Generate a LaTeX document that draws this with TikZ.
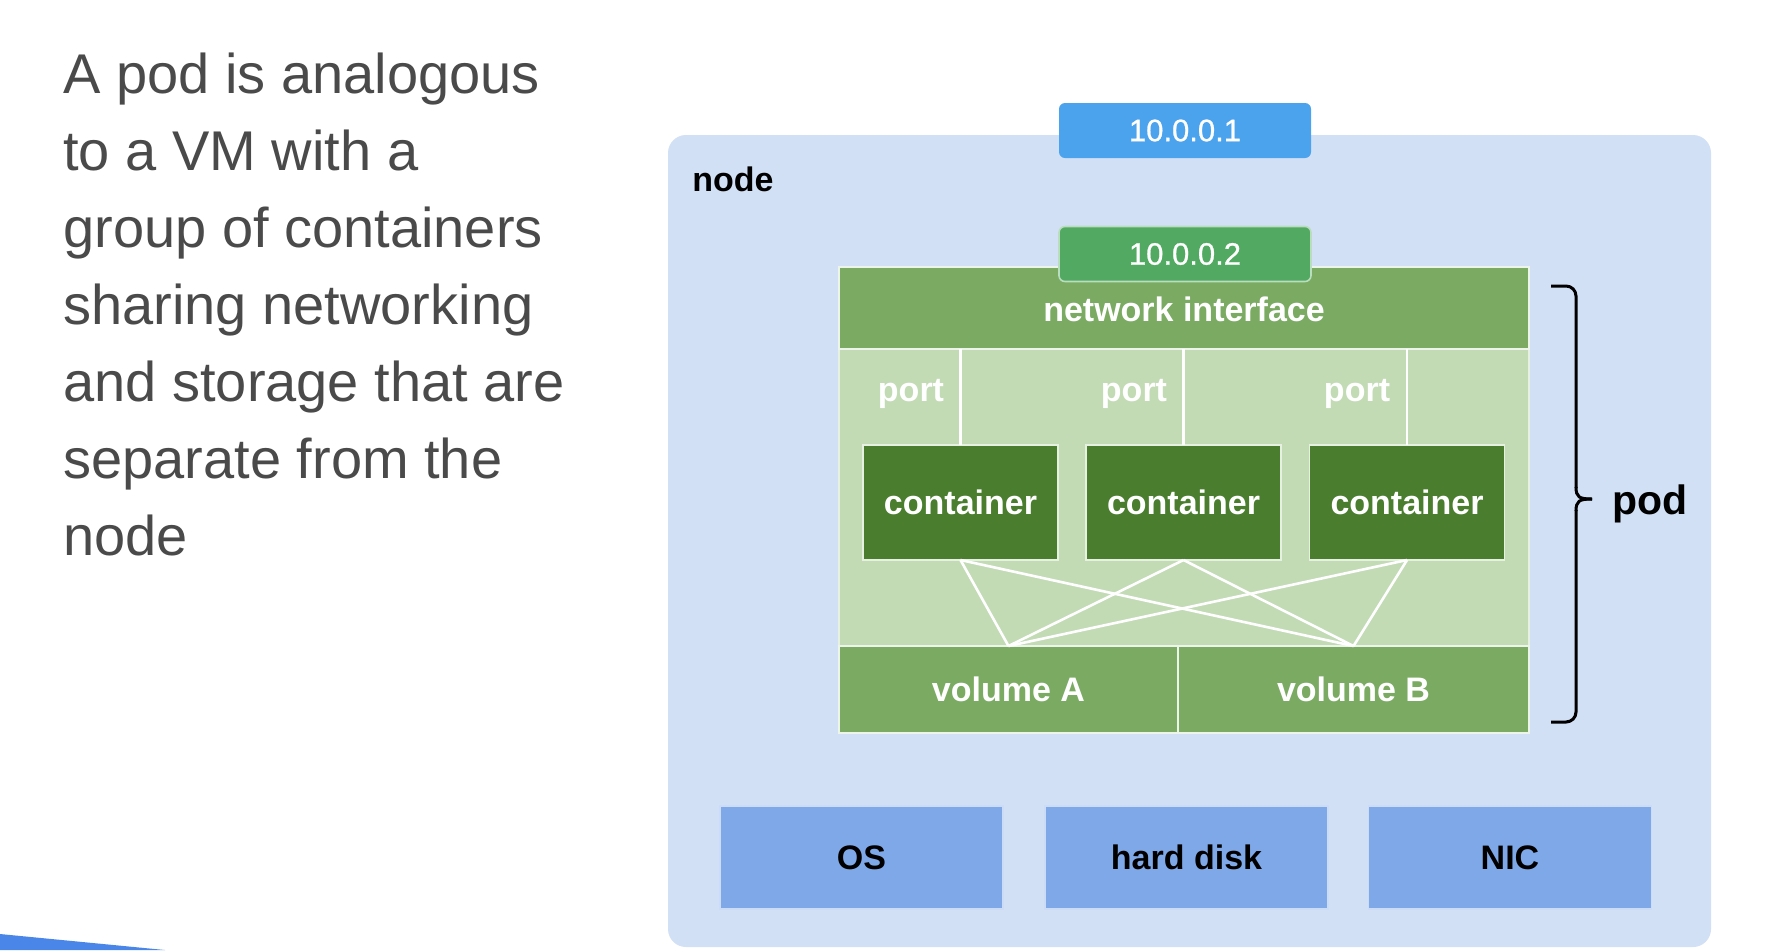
\documentclass[tikz,border=0pt]{standalone}
\usepackage{fontspec}
\setmainfont{Liberation Sans}
\newfontfamily\medfont[FakeBold=0.8]{Liberation Sans}
\definecolor{nodebg}{HTML}{D2E0F6}
\definecolor{ipblue}{HTML}{4BA3EE}
\definecolor{ipgreen}{HTML}{52A962}
\definecolor{midgreen}{HTML}{7BAA62}
\definecolor{lightgreen}{HTML}{C2DBB5}
\definecolor{darkgreen}{HTML}{4A7D2E}
\definecolor{hwblue}{HTML}{7FA8E8}
\definecolor{swoosh}{HTML}{4A86E8}
\definecolor{bodytext}{HTML}{4A4A4A}
\begin{document}
\begin{tikzpicture}[x=0.5pt,y=-0.5pt,
  bodyline/.style={anchor=base west,inner sep=0pt,text=bodytext,font=\fontsize{28}{34}\selectfont},
  box/.style={rectangle,inner sep=0pt,outer sep=0pt,font=\bfseries\fontsize{17}{20}\selectfont},
  greenbox/.style={box,fill=midgreen,draw=white!70!lightgreen,line width=0.8pt,text=white},
  contbox/.style={box,fill=darkgreen,draw=white!60!lightgreen,line width=0.8pt,text=white,minimum width=97.5pt,minimum height=57.5pt},
  hwbox/.style={box,fill=hwblue,draw=white!60!hwblue,line width=0.8pt,text=black,minimum width=141.5pt,minimum height=51.5pt},
  ipbox/.style={box,rounded corners=3pt,minimum width=126pt,minimum height=27.5pt,text=white,font=\medfont\fontsize{15.5}{18}\selectfont},
  wire/.style={draw=white,line width=1.3pt},
  lbl/.style={inner sep=0pt,font=\bfseries\fontsize{17}{20}\selectfont}
]
\useasboundingbox (0,0) rectangle (1792,950);
\fill[white] (0,0) rectangle (1792,950);
% swoosh
\fill[swoosh] (0,934) -- (165,950) -- (0,950) -- cycle;

% body text
\node[bodyline] (t1) at (63,93) {A pod is analogous};
\node[bodyline] (t2) at (63,170) {to a VM with a};
\node[bodyline] (t3) at (63,247) {group of containers};
\node[bodyline] (t4) at (63,324) {sharing networking};
\node[bodyline] (t5) at (63,401) {and storage that are};
\node[bodyline] (t6) at (63,478) {separate from the};
\node[bodyline] (t7) at (63,555) {node};

% node box
\node[box,fill=nodebg,rounded corners=9pt,minimum width=521.5pt,minimum height=406pt] (nodebox) at (1189.5,541) {};
\node[lbl,anchor=west] (nodelbl) at (692,179) {node};
\node[ipbox,fill=ipblue] (ip1) at (1185,130.5) {10.0.0.1};

% pod
\node[box,fill=lightgreen,draw=white!60!lightgreen,line width=0.8pt,minimum width=345pt,minimum height=148.5pt] (podarea) at (1184,497.5) {};
\node[greenbox,minimum width=345pt,minimum height=41pt] (netif) at (1184,308) {};
\node[lbl,text=white] (netiflbl) at (1184,309) {network interface};
\node[ipbox,fill=ipgreen,draw=white!60!ipgreen,line width=0.8pt] (ip2) at (1185,254) {10.0.0.2};

\node[contbox] (c1) at (960.5,502.5) {container};
\node[contbox] (c2) at (1183.5,502.5) {container};
\node[contbox] (c3) at (1407,502.5) {container};

\draw[wire] (c1.north) -- (c1.north |- netif.south);
\draw[wire] (c2.north) -- (c2.north |- netif.south);
\draw[wire] (c3.north) -- (c3.north |- netif.south);

\node[lbl,text=white] (p1) at (911,394) {port};
\node[lbl,text=white] (p2) at (1134,394) {port};
\node[lbl,text=white] (p3) at (1357,394) {port};

\node[greenbox,minimum width=169.5pt,minimum height=43.5pt] (volA) at (1008.5,689.5) {volume A};
\node[greenbox,minimum width=175.5pt,minimum height=43.5pt] (volB) at (1353.5,689.5) {volume B};

\foreach \c in {c1,c2,c3}{
  \draw[wire] (\c.south) -- (volA.north);
  \draw[wire] (\c.south) -- (volB.north);
}

% brace
\coordinate (bt) at (1551,286);
\coordinate (bb) at (1551,722);
\coordinate (tip) at (1592,499);
\draw[line width=1.5pt,rounded corners=5pt] (bt) -- (1576,286) -- (1576,488);
\draw[line width=1.5pt] (1576,487) .. controls (1576,497) and (1579,499) .. (tip);
\draw[line width=1.5pt,rounded corners=5pt] (bb) -- (1576,722) -- (1576,510);
\draw[line width=1.5pt] (1576,511) .. controls (1576,501) and (1579,499) .. (tip);
\node[inner sep=0pt,anchor=west,font=\bfseries\fontsize{20.5}{24}\selectfont] (podlbl) at (1612,504) {pod};

% hardware
\node[hwbox] (os) at (861.5,857.5) {OS};
\node[hwbox] (disk) at (1186.5,857.5) {hard disk};
\node[hwbox] (nic) at (1510,857.5) {NIC};
\end{tikzpicture}
\end{document}
